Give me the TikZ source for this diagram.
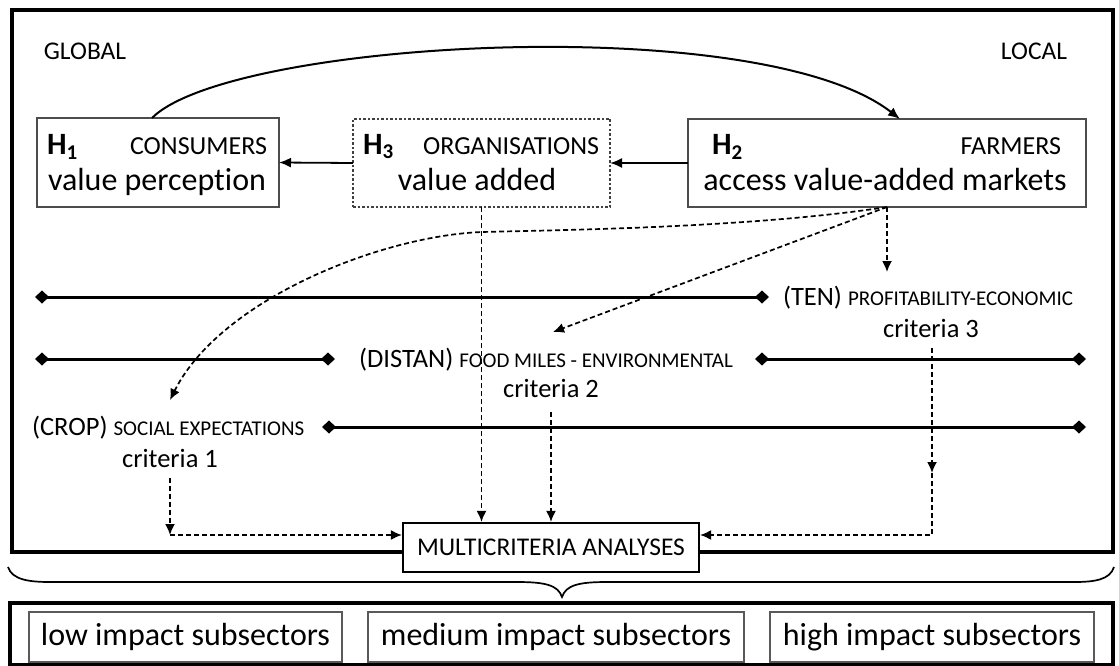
\documentclass[tikz,border=0pt]{standalone}
\usepackage{fontspec}
\setmainfont{Carlito}[Ligatures=NoCommon]
\usetikzlibrary{arrows.meta,calc}
\newcommand{\fsz}[1]{\fontsize{#1}{#1}\selectfont}
\begin{document}
\begin{tikzpicture}[x=1pt,y=-1pt,
  txt/.style={inner sep=0pt, outer sep=0pt},
  hbox/.style={draw=black!70, line width=1.1pt, inner sep=0pt, outer sep=0pt},
  dbox/.style={draw=black!75, line width=1.1pt, dash pattern=on 2.5pt off 2pt, inner sep=0pt, outer sep=0pt},
  subbox/.style={draw=black!65, line width=1.1pt, inner sep=0pt, outer sep=0pt, minimum height=50pt, font=\fsz{32}},
  solidarr/.style={line width=1.8pt, -{Latex[length=12pt,width=10pt]}},
  dasharr/.style={line width=1.7pt, dash pattern=on 5pt off 3pt, -{Latex[length=11pt,width=10pt]}},
  scaleline/.style={line width=3pt, {Diamond[length=14pt,width=13pt]}-{Diamond[length=14pt,width=13pt]}},
  big/.style={font=\fsz{32}},
  lbl/.style={font=\fsz{26}},
  crit/.style={font=\fsz{26.5}},
]
\useasboundingbox (0,0) rectangle (1119,666);

% outer frame
\node[draw, line width=3.2pt, inner sep=0pt, minimum width=1101pt, minimum height=542pt] (frame) at (562.5,281) {};

% global / local
\node[txt, font=\fsz{25.5}, anchor=base] (global) at (85,60) {GLOBAL};
\node[txt, font=\fsz{25.5}, anchor=base] (local) at (1034,60) {LOCAL};

% top boxes
\node[hbox, minimum width=242pt, minimum height=89pt] (H1) at (158,162.5) {};
\node[dbox, minimum width=257pt, minimum height=88pt] (H3) at (481.5,163) {};
\node[hbox, minimum width=398pt, minimum height=88pt] (H2) at (887,163) {};

\node[txt, anchor=base west, font=\fsz{31}\bfseries] (h1t) at (47,155) {H\raisebox{-5pt}{\fsz{21}1}};
\node[txt, anchor=base east, lbl] (cons) at (267,155) {CONSUMERS};
\node[txt, anchor=base, big] (vp) at (157,190) {value perception};

\node[txt, anchor=base west, font=\fsz{31}\bfseries] (h3t) at (363,154) {H\raisebox{-5pt}{\fsz{21}3}};
\node[txt, anchor=base east, lbl] (orgs) at (599,154) {ORGANISATIONS};
\node[txt, anchor=base, big] (va) at (477,190) {value added};

\node[txt, anchor=base west, font=\fsz{31}\bfseries] (h2t) at (712,155) {H\raisebox{-5pt}{\fsz{21}2}};
\node[txt, anchor=base east, lbl] (farm) at (1061,155) {FARMERS};
\node[txt, anchor=base, big] (avam) at (885,190) {access value-added markets};

% top connectors
\draw[solidarr] (H2.west) -- (H3.east);
\draw[solidarr] (H3.west) -- (H1.east);
\draw[line width=2pt, -{Latex[length=12pt,width=10pt]}] ([xshift=-6pt]H1.north) .. controls (230,40) and (760,10) .. ([xshift=13pt]H2.north);

% criteria scale lines
\coordinate (l1a) at (35,297);  \coordinate (l1b) at (769,297);
\coordinate (l2a) at (35,359);  \coordinate (l2b) at (335,359);
\coordinate (l2c) at (755,359); \coordinate (l2d) at (1086,359);
\coordinate (l3a) at (322,427); \coordinate (l3b) at (1086,427);
\draw[scaleline] (l1a) -- (l1b);
\draw[scaleline] (l2a) -- (l2b);
\draw[scaleline] (l2c) -- (l2d);
\draw[scaleline] (l3a) -- (l3b);

% criteria labels
\node[txt, anchor=base west] (ten) at (783,305) {\fsz{26.5}(TEN) \fsz{21}PROFITABILITY-ECONOMIC};
\node[txt, crit] (crit3) at (931,328) {criteria 3};
\node[txt, anchor=base west] (distan) at (359,367) {\fsz{26.5}(DISTAN) \fsz{21}FOOD MILES - ENVIRONMENTAL};
\node[txt, crit] (crit2) at (551,388) {criteria 2};
\node[txt, anchor=base west] (crop) at (32,435) {\fsz{26.5}(CROP) \fsz{21}SOCIAL EXPECTATIONS};
\node[txt, crit] (crit1) at (170,458) {criteria 1};

% bottom part: brace and subsector boxes
\draw[line width=1.7pt] (8,567) .. controls (12,580) and (30,582) .. (50,582) -- (517,582)
  .. controls (545,582) and (558,585) .. (562,597)
  .. controls (566,585) and (579,582) .. (607,582) -- (1074,582)
  .. controls (1094,582) and (1110,580) .. (1114,567);
\node[draw, line width=3.2pt, inner sep=0pt, minimum width=1103pt, minimum height=62pt] (bottom) at (561.5,634) {};
\node[subbox, minimum width=313pt] (low) at (185.5,637) {low impact subsectors};
\node[subbox, minimum width=376pt] (med) at (556,637) {medium impact subsectors};
\node[subbox, minimum width=324pt] (high) at (932,637) {high impact subsectors};

% multicriteria box
\node[draw, line width=2.2pt, fill=white, inner sep=0pt, minimum width=296pt, minimum height=49pt, font=\fsz{25.5}] (MC) at (551,547.5) {MULTICRITERIA ANALYSES};

% dashed connectors from H2
\coordinate (tenTip) at (887,272);
\coordinate (distTip) at (553,332);
\coordinate (cropTip) at (170,400);
\draw[dasharr] (H2.south) -- (tenTip);
\draw[dasharr] (H2.south) -- (distTip);
\draw[dasharr] (H2.south) .. controls (750,228) and (560,230) .. (482,232)
  .. controls (380,236) and (220,300) .. (cropTip);

% dashed connectors to MC
\draw[dasharr] (H3.south) -- (H3.south |- MC.north);
\draw[dasharr] ([yshift=-15pt]crit2.south) -- (crit2.south |- MC.north);
\coordinate (c1corner) at (170,535);
\draw[dasharr] ([yshift=-11pt]crit1.south) -- (c1corner);
\draw[dasharr] (c1corner) -- (c1corner -| MC.west);
\coordinate (c3tip) at (932,473);
\coordinate (c3corner) at (932,535);
\draw[dasharr] ([xshift=1pt,yshift=-11pt]crit3.south) -- (c3tip);
\draw[dasharr] (c3tip) -- (c3corner) -- (c3corner -| MC.east);
\end{tikzpicture}
\end{document}
